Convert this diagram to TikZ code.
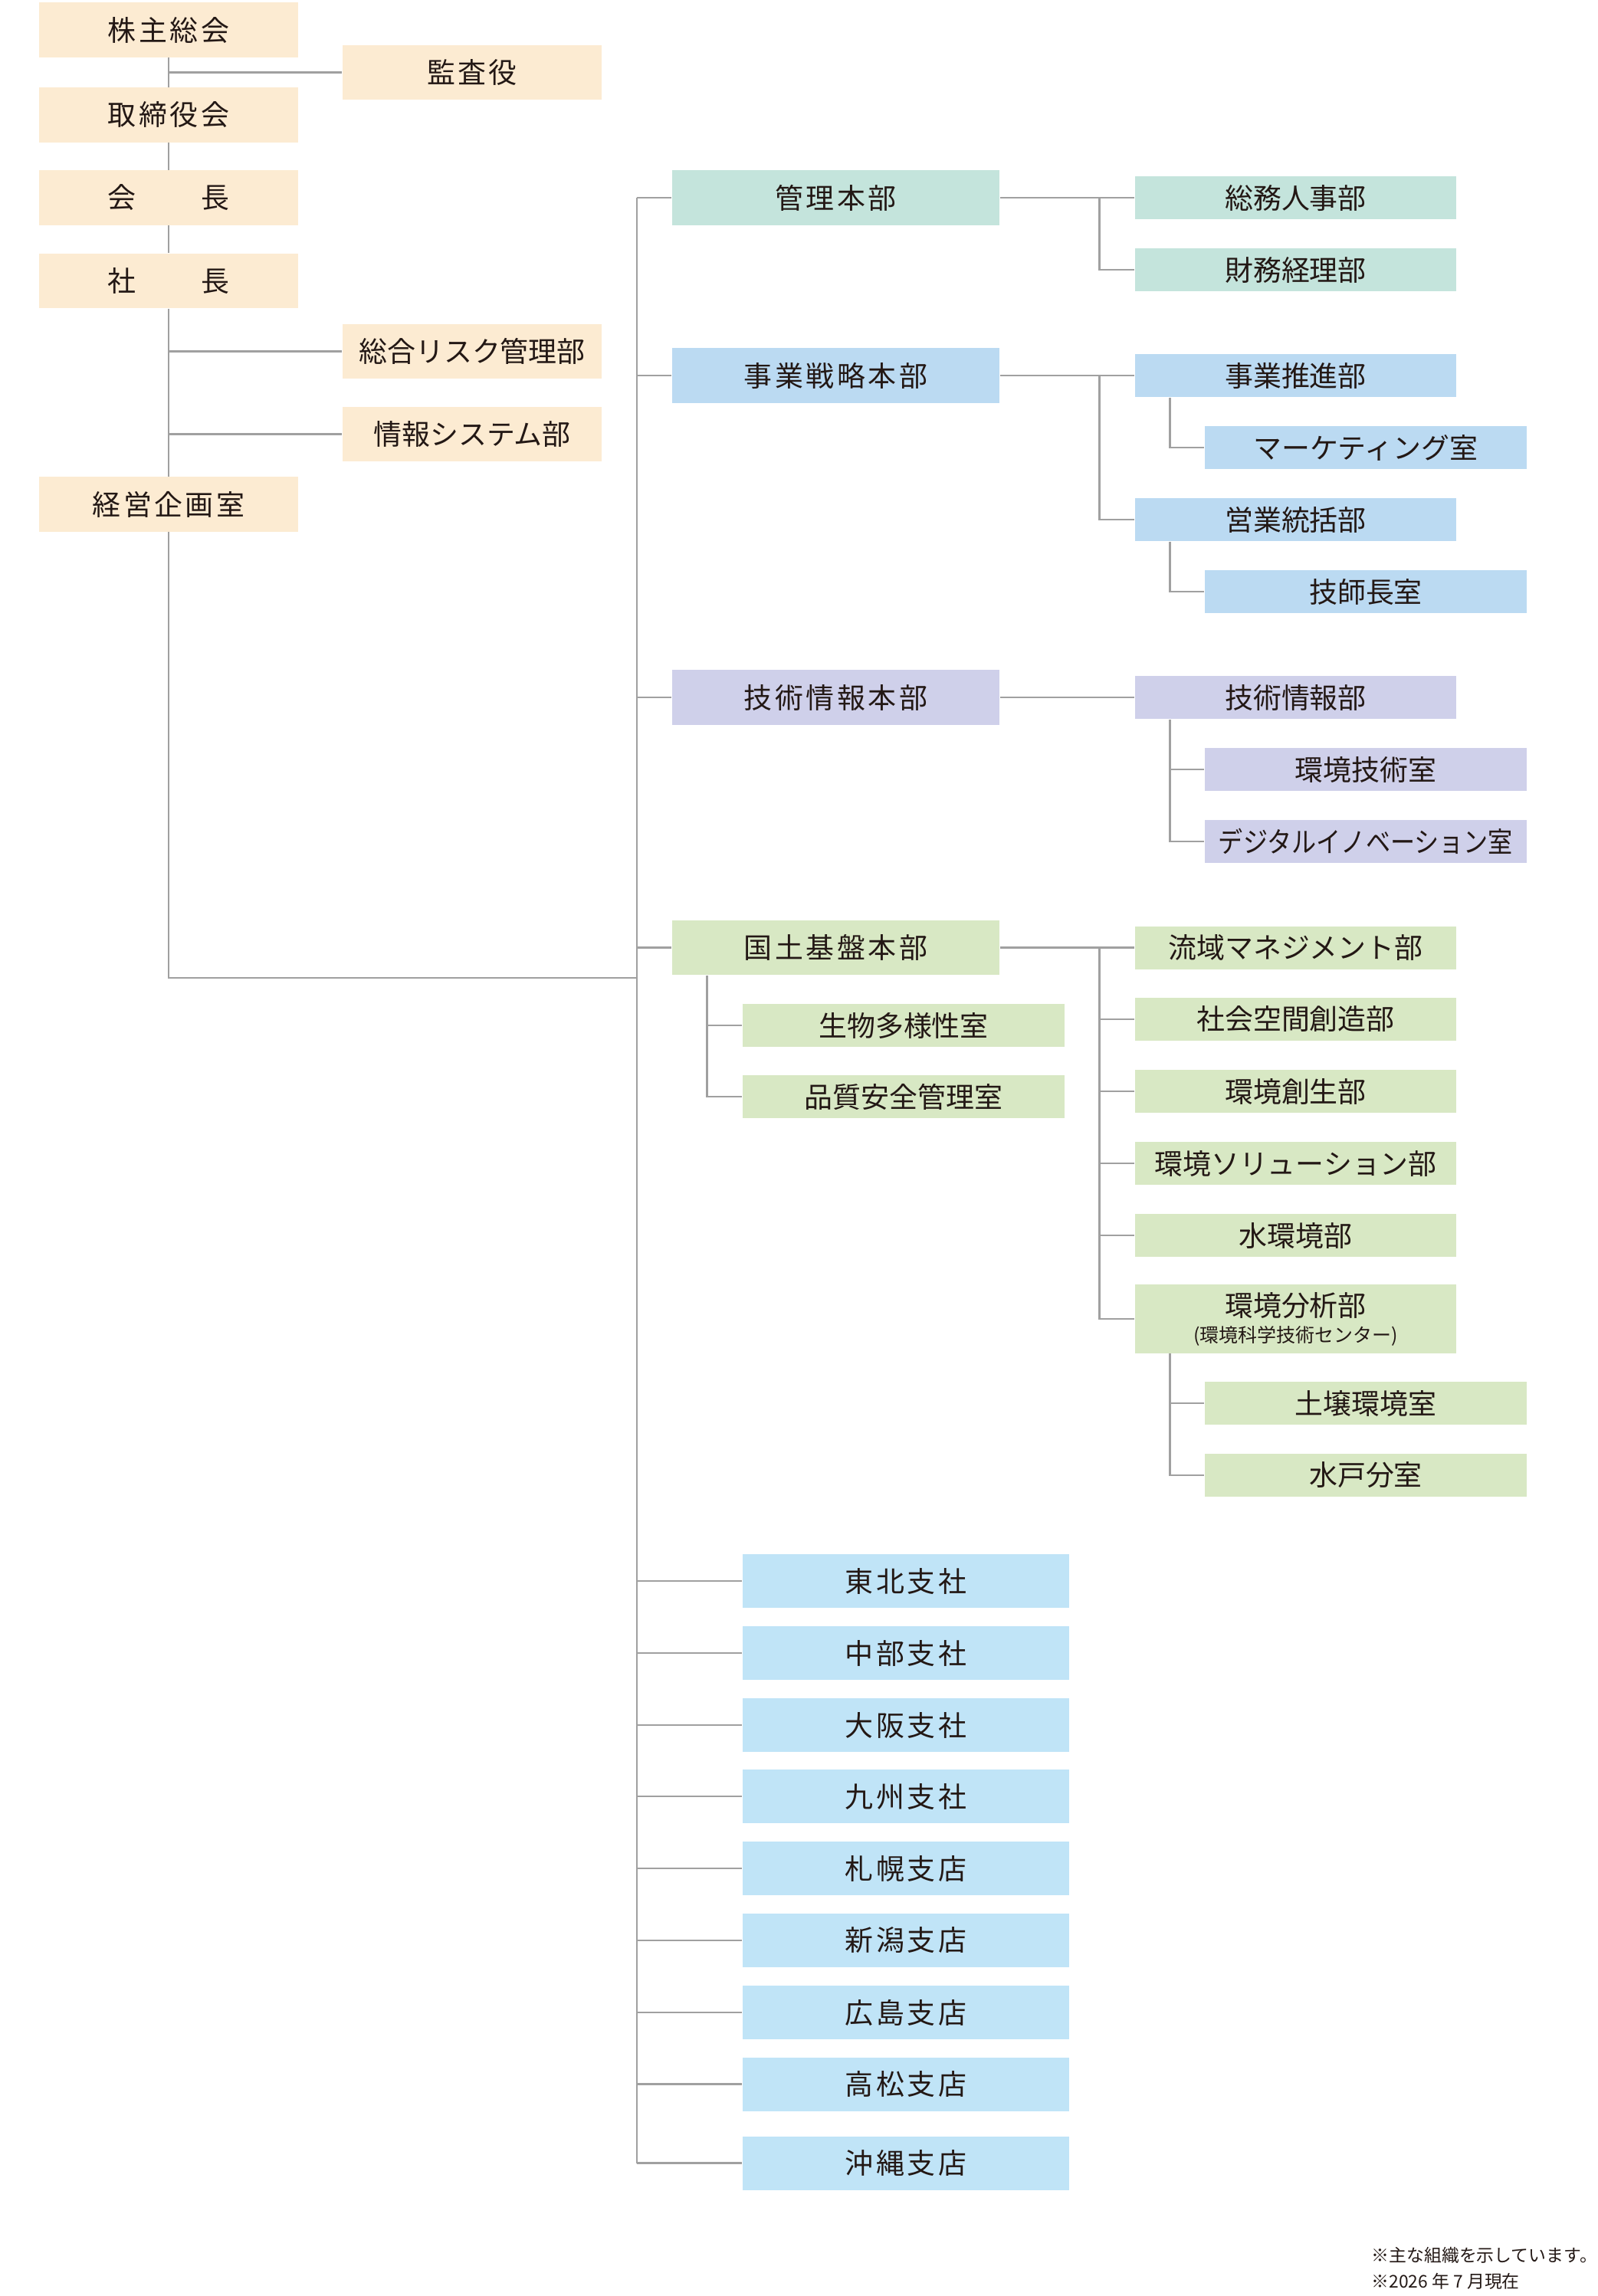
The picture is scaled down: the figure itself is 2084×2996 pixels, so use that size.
\documentclass[tikz,border=0pt]{standalone}
\usepackage{fontspec}
\usepackage{graphicx}
\setmainfont{Noto Sans CJK JP}
\newfontfamily\spaced{Noto Sans CJK JP}[LetterSpace=9.5]
\usetikzlibrary{positioning,calc}

\definecolor{ink}{RGB}{35,24,21}
\definecolor{linegray}{RGB}{160,160,160}
\definecolor{beige}{RGB}{252,235,210}
\definecolor{mint}{RGB}{196,228,220}
\definecolor{skyblue}{RGB}{187,218,242}
\definecolor{lavender}{RGB}{207,208,234}
\definecolor{leaf}{RGB}{216,232,196}
\definecolor{branch}{RGB}{192,228,247}

\tikzset{
  box/.style={inner sep=0pt, text=ink, font=\fontsize{10.5pt}{12pt}\selectfont},
  wide/.style={font=\spaced\fontsize{10.5pt}{12pt}\selectfont},
  topbox/.style={box, fill=beige, minimum width=3.38cm, minimum height=0.71cm},
  hqbox/.style={box, wide, minimum width=4.27cm, minimum height=0.71cm},
  deptbox/.style={box, minimum width=4.19cm, minimum height=0.56cm},
  roombox/.style={box, minimum width=4.20cm, minimum height=0.56cm},
  branchbox/.style={box, wide, fill=branch, minimum width=4.26cm, minimum height=0.70cm},
  note/.style={anchor=west, inner sep=0pt, text=ink, font=\fontsize{6.5pt}{7pt}\selectfont},
  link/.style={draw=linegray, line width=0.8pt}
}

\begin{document}
\begin{tikzpicture}[x=0.01cm, y=-0.01cm]
    \useasboundingbox (0,0) rectangle (2084,2996);

    \node (kabunushi) [topbox, wide] at (220,39) {株主総会};
    \node (kansa) [topbox, wide] at (616,94.5) {監査役};
    \node (torishimari) [topbox, wide] at (220,150) {取締役会};
    \node (kaicho) [topbox] at (220,258) {会\hspace{2.3em}長};
    \node (shacho) [topbox] at (220,366.5) {社\hspace{2.3em}長};
    \node (risk) [topbox] at (616,458.5) {総合リスク管理部};
    \node (joho) [topbox] at (616,566.5) {情報システム部};
    \node (keiei) [topbox, wide] at (220,658) {経営企画室};

    \node (kanri) [hqbox, fill=mint] at (1090.5,258) {管理本部};
    \node (senryaku) [hqbox, fill=skyblue] at (1090.5,490) {事業戦略本部};
    \node (gijutsu) [hqbox, fill=lavender] at (1090.5,910) {技術情報本部};
    \node (kokudo) [hqbox, fill=leaf] at (1090.5,1236.5) {国土基盤本部};

    \node (somu) [deptbox, fill=mint] at (1690.5,258) {総務人事部};
    \node (zaimu) [deptbox, fill=mint] at (1690.5,352) {財務経理部};
    \node (suishin) [deptbox, fill=skyblue] at (1690.5,490) {事業推進部};
    \node (marketing) [roombox, fill=skyblue] at (1782,584) {マーケティング室};
    \node (eigyo) [deptbox, fill=skyblue] at (1690.5,678) {営業統括部};
    \node (gishicho) [roombox, fill=skyblue] at (1782,772) {技師長室};
    \node (gijutsujoho) [deptbox, fill=lavender] at (1690.5,910) {技術情報部};
    \node (kankyogijutsu) [roombox, fill=lavender] at (1782,1004) {環境技術室};
    \node (digital) [roombox, fill=lavender] at (1782,1098) {\scalebox{0.87}[1]{デジタルイノベーション室}};

    \node (ryuiki) [deptbox, fill=leaf] at (1690.5,1236.5) {流域マネジメント部};
    \node (shakai) [deptbox, fill=leaf] at (1690.5,1330) {社会空間創造部};
    \node (sosei) [deptbox, fill=leaf] at (1690.5,1424) {環境創生部};
    \node (solution) [deptbox, fill=leaf] at (1690.5,1518) {環境ソリューション部};
    \node (mizu) [deptbox, fill=leaf] at (1690.5,1612) {水環境部};
    \node (bunseki) [deptbox, fill=leaf, minimum height=0.89cm, align=center,
        font=\fontsize{10.5pt}{9.7pt}\selectfont] at (1690.5,1721)
        {環境分析部\\{\fontsize{7.1pt}{7.5pt}\selectfont (環境科学技術センター)}};
    \node (dojo) [roombox, fill=leaf] at (1782,1831) {土壌環境室};
    \node (mito) [roombox, fill=leaf] at (1782,1925) {水戸分室};
    \node (seibutsu) [roombox, fill=leaf] at (1179,1338) {生物多様性室};
    \node (hinshitsu) [roombox, fill=leaf] at (1179,1431) {品質安全管理室};

    \foreach \name/\txt/\y in {tohoku/東北支社/2063, chubu/中部支社/2157,
        osaka/大阪支社/2251, kyushu/九州支社/2344, sapporo/札幌支店/2438,
        niigata/新潟支店/2532, hiroshima/広島支店/2626, takamatsu/高松支店/2719.5,
        okinawa/沖縄支店/2822.5}
        \node (\name) [branchbox] at (1182,\y) {\txt};

    \node (note1) [note] at (1789,2943) {※主な組織を示しています。};
    \node (note2) [note] at (1789,2977) {※2026 年 7 月現在};

    \coordinate (trunk) at (831,258);
    \coordinate (join) at (831,1276);

    \draw [link] (kabunushi) -- (torishimari);
    \draw [link] (kabunushi.south |- kansa.west) -- (kansa.west);
    \draw [link] (torishimari) -- (kaicho);
    \draw [link] (kaicho) -- (shacho);
    \draw [link] (shacho) -- (keiei);
    \draw [link] (shacho.south |- risk.west) -- (risk.west);
    \draw [link] (shacho.south |- joho.west) -- (joho.west);
    \draw [link] (keiei.south) |- (join);

    \draw [link] (trunk) -- (trunk |- okinawa.west);
    \foreach \hq in {kanri, senryaku, gijutsu, kokudo, tohoku, chubu, osaka, kyushu,
        sapporo, niigata, hiroshima, takamatsu, okinawa}
        \draw [link] (trunk |- \hq.west) -- (\hq.west);

    \draw [link] (kanri) -- (somu);
    \draw [link] ($(somu.west)+(-46,0)$) |- (zaimu.west);
    \draw [link] (senryaku) -- (suishin);
    \draw [link] ($(suishin.west)+(-46,0)$) |- (eigyo.west);
    \draw [link] ($(suishin.south west)+(46,0)$) |- (marketing.west);
    \draw [link] ($(eigyo.south west)+(46,0)$) |- (gishicho.west);
    \draw [link] (gijutsu) -- (gijutsujoho);
    \foreach \r in {kankyogijutsu, digital}
        \draw [link] ($(gijutsujoho.south west)+(46,0)$) |- (\r.west);

    \draw [link] (kokudo) -- (ryuiki);
    \foreach \d in {shakai, sosei, solution, mizu, bunseki}
        \draw [link] ($(ryuiki.west)+(-46,0)$) |- (\d.west);
    \foreach \r in {seibutsu, hinshitsu}
        \draw [link] ($(kokudo.south west)+(46,0)$) |- (\r.west);
    \foreach \r in {dojo, mito}
        \draw [link] ($(bunseki.south west)+(46,0)$) |- (\r.west);
\end{tikzpicture}
\end{document}
